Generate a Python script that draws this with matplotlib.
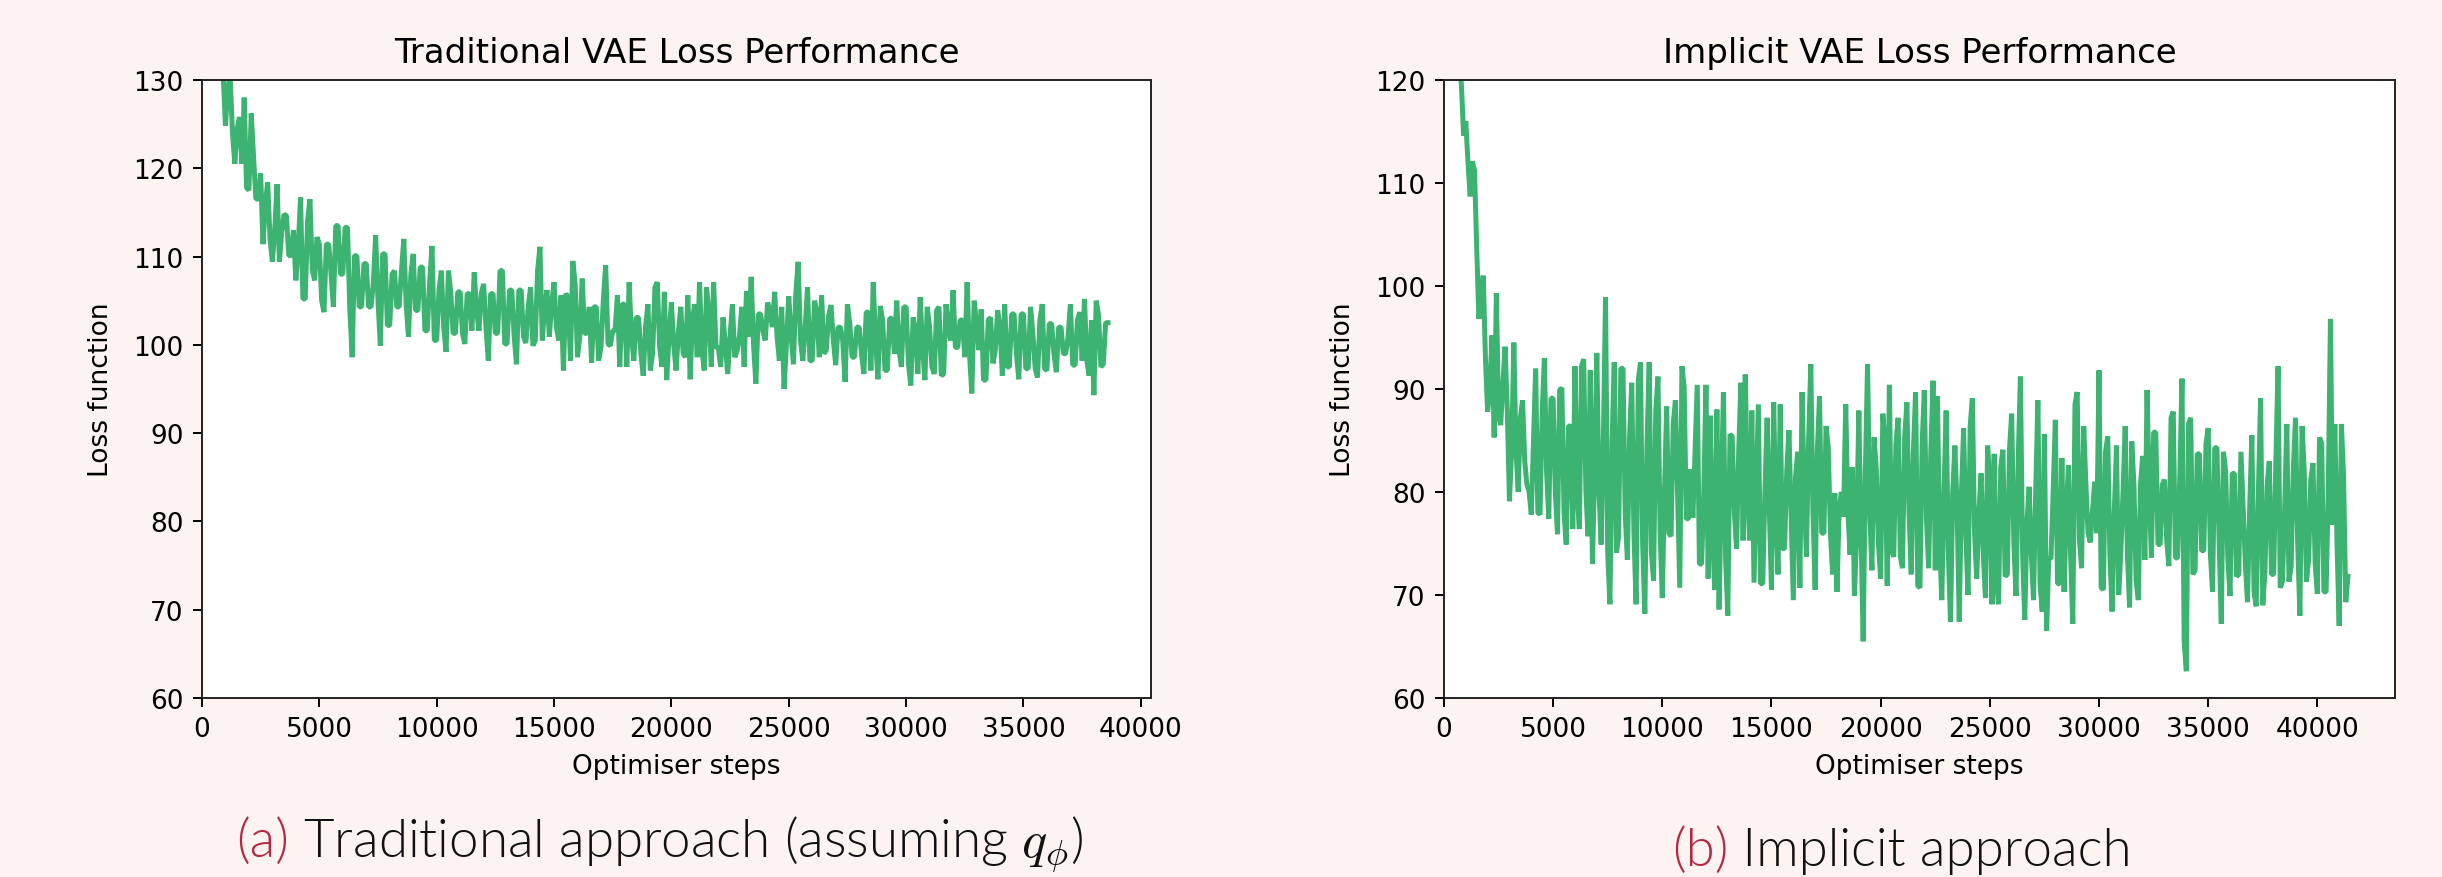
import numpy as np
import matplotlib
matplotlib.use('Agg')
import matplotlib.pyplot as plt
from matplotlib.ticker import MultipleLocator
from matplotlib.offsetbox import TextArea, HPacker, AnnotationBbox

# steps between two logged losses
STEP = 100

# traditional VAE: loss read every 200 steps (0, 200, 400, ...)
traditional_loss = [
    190, 168, 152, 143, 135, 124.8, 130.5, 120.5, 125.8, 128,
    117.5, 121.2, 116.5, 111.4, 118.4, 109.4, 118.2, 112.8, 114.6, 110.1,
    107.3, 116.7, 105.2, 116.5, 107.3, 111.4, 103.7, 111.4, 104.3, 113.5,
    108, 113.3, 98.6, 110.1, 104.3, 109.2, 104.3, 112.4, 99.9, 110.3,
    102.2, 108.4, 104.3, 112, 100.9, 110.3, 103.9, 108.8, 101.6, 111.2,
    100.5, 108.4, 99.2, 106, 101.3, 106, 100.1, 105.8, 108.2, 101.6,
    106.9, 98.2, 105.8, 101.3, 108.4, 100.1, 106.2, 97.8, 106.2, 100.2,
    106.5, 100.5, 111.1, 104.3, 100.9, 107.1, 100.5, 97.1, 105.4, 109.5,
    98.6, 107.5, 101.3, 98, 104.3, 99.7, 109, 99.9, 101.6, 97.5,
    104.6, 107.1, 98.2, 103.1, 96.5, 104.6, 99, 107.1, 97.5, 96,
    104.8, 97.1, 104.3, 98.6, 96.1, 104.6, 107.1, 97.1, 103.5, 107.1,
    99.7, 103.1, 96.7, 104.6, 99.3, 104.3, 106.1, 107.7, 95.6, 103.5,
    100.5, 103.9, 106, 98.2, 95, 105.5, 97.8, 109.4, 98.2, 106.5,
    98.2, 103.7, 105.6, 99.4, 104.5, 97.7, 102, 95.8, 102.4, 98.6,
    102, 96.7, 103.7, 107.1, 96.1, 102.8, 97.1, 103, 105, 97.5,
    104.3, 95.4, 101.6, 105.4, 96, 102, 96.7, 104.3, 96.7, 102,
    106.2, 99.7, 102.8, 107.1, 94.5, 102.4, 104, 96, 103.1, 99.4,
    102, 104.6, 97.5, 103.5, 96.1, 103.5, 97.3, 101.3, 96.3, 104.6,
    97.1, 102.4, 96.9, 102, 99, 104.6, 97.7, 103.7, 105.2, 96.5,
    94.3, 103.3, 97.8, 102.5,
]
# traditional VAE: loss read half way between them (100, 300, 500, ...)
traditional_loss_mid = [
    178, 158, 146, 139, 131, 129, 124, 124.5, 120.5, 117.8,
    126.2, 116.5, 119.4, 116, 112, 113, 109.4, 114.8, 110.1, 113,
    111, 105.2, 114, 108.5, 112.2, 105, 111.4, 108, 113.5, 108,
    113.3, 104, 110.1, 104.3, 109.2, 104.3, 106.9, 105, 110.3, 102.2,
    108, 104.3, 108.4, 104.5, 108, 103.9, 108.8, 101.6, 107, 100.5,
    106.2, 102, 108.4, 101.3, 106, 101.3, 105.8, 101.6, 103.9, 105.8,
    102, 105.8, 101.3, 108.4, 100.1, 106.2, 101, 106.2, 100.9, 104.3,
    99.9, 108.4, 100.5, 106.2, 104.6, 102, 105.6, 105.8, 98.2, 106.9,
    101, 101.3, 104.3, 104.3, 98.2, 105, 100.1, 101.6, 105.6, 104.6,
    97.5, 101, 103.1, 99, 102, 97.1, 106.5, 99.7, 106, 101,
    100, 101.5, 99, 105.6, 103.1, 98.6, 99.4, 106.5, 97.5, 99.7,
    97.5, 100, 101, 98.6, 101, 97.5, 100.9, 100, 103.5, 101.5,
    104.8, 102, 101, 104.3, 100, 101, 105.8, 100.5, 102, 98.2,
    105, 98.6, 99, 103.3, 100.5, 102, 100.5, 104.6, 98.6, 102,
    99, 103.7, 97.1, 100.5, 104.4, 97.1, 103, 99, 99.4, 104.3,
    97.85, 103.1, 96.7, 99.7, 104.3, 97.5, 103.9, 96.5, 104.6, 100.5,
    99.7, 102.8, 98.6, 99, 105, 99.4, 96, 102.8, 97.9, 103.9,
    96.5, 97.5, 103.5, 99, 103.5, 97.3, 104.3, 97.3, 102.8, 97.3,
    102.4, 99, 102, 99, 100.9, 97.7, 102.8, 98.2, 98.2, 102.8,
    105, 97.5, 102.5,
]

# implicit VAE: loss read every 200 steps (0, 200, 400, ...)
implicit_loss = [
    150, 138, 129, 124, 119.5, 116, 108.7, 111.2, 96.8, 101,
    87.8, 95.2, 99.3, 86.5, 94.1, 79.1, 94.5, 80, 88.9, 80.7,
    77.8, 92, 77.8, 93, 77.4, 89.1, 75.9, 90.1, 74.9, 86.4,
    92.2, 76.4, 92.9, 75.7, 73, 93.5, 74.9, 98.9, 69.1, 92.6,
    75.7, 92, 73.4, 90.6, 69.1, 92.6, 68.2, 92.6, 71.4, 91.2,
    69.7, 88.3, 75.7, 88.9, 70.7, 90.2, 77.4, 77.5, 90.4, 73,
    90.4, 87.4, 70.5, 68.6, 89.7, 68, 85.4, 74.5, 90.6, 91.4,
    75.3, 71.2, 88.5, 71.1, 87.2, 70.5, 78, 88.5, 74.5, 86,
    69.5, 83.9, 89.7, 73.7, 92.4, 70.5, 89.3, 76, 84.3, 72,
    70.3, 80, 88.5, 73.9, 69.9, 87.9, 65.5, 92.4, 72.4, 82.2,
    71.6, 84.7, 90.4, 73.7, 87.2, 72.6, 88.7, 72, 89.7, 70.7,
    89.9, 72.6, 90.8, 89.3, 69.5, 87.9, 67.4, 84.5, 67.4, 86.2,
    70, 89.1, 71.6, 81.8, 69.7, 81, 83.7, 69.1, 84.1, 72,
    87.6, 69.9, 91.2, 67.6, 80.5, 69.5, 88.9, 68.4, 66.5, 73.5,
    87, 71.1, 70.3, 82.6, 67.2, 89.7, 72.6, 80.7, 75.1, 81,
    91.8, 70.5, 85.4, 68.4, 84.5, 74.1, 86.4, 68.8, 80.7, 69.5,
    83.5, 89.9, 73.6, 85.8, 74.9, 81.2, 72.8, 87.8, 73.6, 91,
    62.6, 87.2, 72.4, 83.7, 74.3, 86.2, 70.3, 84.3, 67.2, 82,
    69.9, 81.8, 72, 78.6, 69.3, 85.5, 68.9, 89.1, 72.2, 83,
    72, 92.2, 71.3, 86.6, 72.8, 87.2, 68, 82, 73.4, 82.8,
    70.1, 84.7, 70.3, 96.8, 86.6, 67, 81.6, 71.8,
]
# implicit VAE: loss read half way between them (100, 300, 500, ...)
implicit_loss_mid = [
    144, 133, 126, 122, 114.6, 112, 112.1, 103.7, 99.1, 93,
    89.9, 85.3, 87.4, 90.6, 88, 84.1, 84.1, 87.2, 83, 80,
    85, 78, 87.8, 82, 89.1, 80, 89.9, 78, 86.4, 76.4,
    80, 92.2, 80, 91.8, 82.2, 80, 85, 74.1, 85, 74.1,
    92, 78, 85.3, 76, 90.8, 75, 84.5, 74.1, 87.9, 76,
    80, 76, 86.6, 80, 92.2, 77.4, 82.2, 84, 73, 79.9,
    71.6, 76, 88, 80, 73.4, 85.6, 78, 84, 75.3, 80,
    87.9, 80, 71.1, 80, 78.5, 88.7, 72, 74.5, 82, 77.6,
    81.4, 70.7, 80, 85, 78, 84, 76, 86.4, 76, 79.9,
    78.3, 77.6, 78, 82.4, 76, 76, 82, 78, 85.3, 74.9,
    87.6, 70.9, 74.3, 84.7, 73.75, 85.3, 78, 84, 70.9, 84.7,
    77.2, 84.1, 72.4, 75, 80, 74, 80, 78.4, 79.9, 76,
    86.4, 76, 78, 73.9, 84.5, 69.1, 71.4, 82.4, 71.8, 84.1,
    75, 83.1, 74, 77, 74, 80, 71.1, 85.6, 73.6, 80,
    71.1, 83.3, 78, 73.75, 88.5, 75.5, 86.4, 76, 78, 76,
    70.7, 83.9, 73.75, 78, 70, 80, 74, 84.9, 71.4, 80.7,
    73.4, 80, 85.8, 74.9, 80.7, 75.3, 87.2, 73.6, 81.4, 65.5,
    86.6, 72, 83.7, 74.3, 84.7, 74, 84.3, 75.3, 83.9, 73.6,
    81.8, 71.8, 83.9, 73.2, 78.4, 70.3, 80, 69, 80.7, 72,
    83, 70.7, 78.2, 71.3, 82.2, 75, 86.4, 71.3, 81.2, 73,
    85.3, 70.3, 80, 76.8, 75, 86.6, 69.3,
]

titles = ['Traditional VAE Loss Performance', 'Implicit VAE Loss Performance']
caption_tags = ['(a)', '(b)']
caption_texts = [r' Traditional approach (assuming $q_\phi$)', ' Implicit approach']
y_limits = [(60, 130), (60, 120)]
x_limits = [(0, 40430), (0, 43550)]

BG = '#fdf3f1'
GREEN = '#3cb371'
TAG_RED = '#b5283f'

plt.rcParams['font.family'] = ['DejaVu Sans']
plt.rcParams['mathtext.fontset'] = 'cm'


def merge_readings(main, mid):
    """Interleave the on-grid and half-way readings into one series."""
    out = []
    for i, v in enumerate(main):
        out.append(v)
        if i < len(mid):
            out.append(mid[i])
    return np.array(out)


def plot_loss(ax, loss, title, ylim, xlim):
    """Draw one loss curve panel."""
    steps = np.arange(len(loss)) * STEP
    ax.plot(steps, loss, color=GREEN, linewidth=3.6, solid_joinstyle='bevel')
    ax.set_xlim(*xlim)
    ax.set_ylim(*ylim)
    ax.xaxis.set_major_locator(MultipleLocator(5000))
    ax.yaxis.set_major_locator(MultipleLocator(10))
    ax.set_title(title, fontsize=24.5, pad=13)
    ax.set_xlabel('Optimiser steps', fontsize=19, labelpad=8)
    ax.set_ylabel('Loss function', fontsize=19, labelpad=14)
    ax.tick_params(labelsize=19, length=6.6, width=1.4, pad=6.6)
    for spine in ax.spines.values():
        spine.set_linewidth(1.4)
        spine.set_color('#222222')
    ax.set_facecolor('white')


def add_caption(fig, x, tag, text):
    """Caption under a panel: red tag followed by black text."""
    tag_area = TextArea(tag, textprops=dict(color=TAG_RED, fontsize=38,
                                            family='Lato', fontweight=300))
    text_area = TextArea(text, textprops=dict(color='#111111', fontsize=38,
                                              family='Lato', fontweight=300))
    box = HPacker(children=[tag_area, text_area], align='baseline', pad=0, sep=0)
    ab = AnnotationBbox(box, (x, 0.003), xycoords='figure fraction',
                        box_alignment=(0.5, 0.0), frameon=False)
    fig.add_artist(ab)


fig = plt.figure(figsize=(24.42, 8.78), dpi=100, facecolor=BG)
ax1 = fig.add_axes([0.0827, 0.2039, 0.3886, 0.7039])
ax2 = fig.add_axes([0.5913, 0.2039, 0.3894, 0.7039])

plot_loss(ax1, merge_readings(traditional_loss, traditional_loss_mid),
          titles[0], y_limits[0], x_limits[0])
plot_loss(ax2, merge_readings(implicit_loss, implicit_loss_mid),
          titles[1], y_limits[1], x_limits[1])

add_caption(fig, 660 / 2442, caption_tags[0], caption_texts[0])
add_caption(fig, 1902 / 2442, caption_tags[1], caption_texts[1])

fig.savefig('out.png', dpi=100, facecolor=BG)
plt.close(fig)
